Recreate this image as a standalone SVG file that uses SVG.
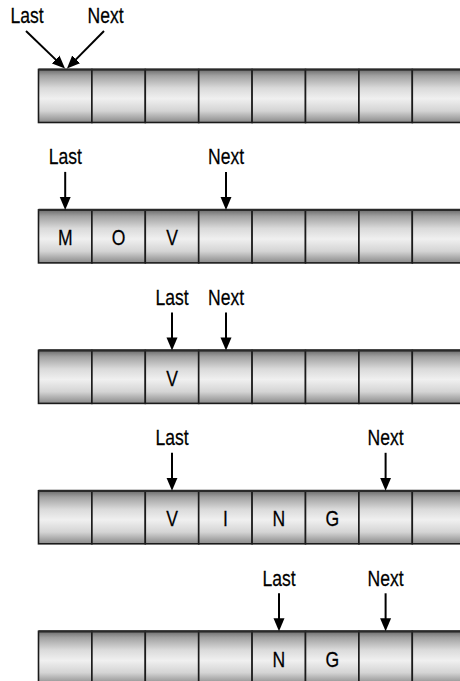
<svg xmlns="http://www.w3.org/2000/svg" width="460" height="681" viewBox="0 0 460 681">
<defs>
<linearGradient id="cyl" x1="0" y1="0" x2="0" y2="1">
<stop offset="0" stop-color="#6c6c6c"/>
<stop offset="0.12" stop-color="#a2a2a2"/>
<stop offset="0.35" stop-color="#dadada"/>
<stop offset="0.55" stop-color="#f0f0f0"/>
<stop offset="0.78" stop-color="#d4d4d4"/>
<stop offset="1" stop-color="#8a8a8a"/>
</linearGradient>
<marker id="ah" markerUnits="userSpaceOnUse" markerWidth="14" markerHeight="12" refX="3" refY="5.5" orient="auto" viewBox="0 0 14 11">
<path d="M0,0 L13,5.5 L0,11 z" fill="#000"/>
</marker>
</defs>
<style>
.cell{fill:url(#cyl);stroke:#1a1a1a;stroke-width:1.6}
.top{stroke:#2a2a2a;stroke-width:2.2}
.lbl,.ch{font-family:"Liberation Sans",Arial,sans-serif;font-size:22.5px;fill:#000;stroke:#000;stroke-width:0.25;text-anchor:middle}
.conn{stroke:#000;stroke-width:2;fill:none;marker-end:url(#ah)}
</style>

<g id="row1">
<rect class="cell" x="38.5" y="69.5" width="53.4" height="53"/>
<rect class="cell" x="91.9" y="69.5" width="53.4" height="53"/>
<rect class="cell" x="145.3" y="69.5" width="53.4" height="53"/>
<rect class="cell" x="198.7" y="69.5" width="53.4" height="53"/>
<rect class="cell" x="252.1" y="69.5" width="53.4" height="53"/>
<rect class="cell" x="305.5" y="69.5" width="53.4" height="53"/>
<rect class="cell" x="358.9" y="69.5" width="53.4" height="53"/>
<rect class="cell" x="412.3" y="69.5" width="53.4" height="53"/>
<line class="top" x1="38.5" y1="69.5" x2="460" y2="69.5"/>
</g>

<g id="row2">
<rect class="cell" x="38.5" y="209.9" width="53.4" height="53"/>
<rect class="cell" x="91.9" y="209.9" width="53.4" height="53"/>
<rect class="cell" x="145.3" y="209.9" width="53.4" height="53"/>
<rect class="cell" x="198.7" y="209.9" width="53.4" height="53"/>
<rect class="cell" x="252.1" y="209.9" width="53.4" height="53"/>
<rect class="cell" x="305.5" y="209.9" width="53.4" height="53"/>
<rect class="cell" x="358.9" y="209.9" width="53.4" height="53"/>
<rect class="cell" x="412.3" y="209.9" width="53.4" height="53"/>
<line class="top" x1="38.5" y1="209.9" x2="460" y2="209.9"/>
<text class="ch" transform="translate(65.2,245.2) scale(0.78,1)">M</text>
<text class="ch" transform="translate(118.6,245.2) scale(0.78,1)">O</text>
<text class="ch" transform="translate(172,245.2) scale(0.78,1)">V</text>
</g>

<g id="row3">
<rect class="cell" x="38.5" y="350.4" width="53.4" height="53"/>
<rect class="cell" x="91.9" y="350.4" width="53.4" height="53"/>
<rect class="cell" x="145.3" y="350.4" width="53.4" height="53"/>
<rect class="cell" x="198.7" y="350.4" width="53.4" height="53"/>
<rect class="cell" x="252.1" y="350.4" width="53.4" height="53"/>
<rect class="cell" x="305.5" y="350.4" width="53.4" height="53"/>
<rect class="cell" x="358.9" y="350.4" width="53.4" height="53"/>
<rect class="cell" x="412.3" y="350.4" width="53.4" height="53"/>
<line class="top" x1="38.5" y1="350.4" x2="460" y2="350.4"/>
<text class="ch" transform="translate(172,385.7) scale(0.78,1)">V</text>
</g>

<g id="row4">
<rect class="cell" x="38.5" y="490.8" width="53.4" height="53"/>
<rect class="cell" x="91.9" y="490.8" width="53.4" height="53"/>
<rect class="cell" x="145.3" y="490.8" width="53.4" height="53"/>
<rect class="cell" x="198.7" y="490.8" width="53.4" height="53"/>
<rect class="cell" x="252.1" y="490.8" width="53.4" height="53"/>
<rect class="cell" x="305.5" y="490.8" width="53.4" height="53"/>
<rect class="cell" x="358.9" y="490.8" width="53.4" height="53"/>
<rect class="cell" x="412.3" y="490.8" width="53.4" height="53"/>
<line class="top" x1="38.5" y1="490.8" x2="460" y2="490.8"/>
<text class="ch" transform="translate(172,526.1) scale(0.78,1)">V</text>
<text class="ch" transform="translate(225.4,526.1) scale(0.78,1)">I</text>
<text class="ch" transform="translate(278.8,526.1) scale(0.78,1)">N</text>
<text class="ch" transform="translate(332.2,526.1) scale(0.78,1)">G</text>
</g>

<g id="row5">
<rect class="cell" x="38.5" y="631.3" width="53.4" height="53"/>
<rect class="cell" x="91.9" y="631.3" width="53.4" height="53"/>
<rect class="cell" x="145.3" y="631.3" width="53.4" height="53"/>
<rect class="cell" x="198.7" y="631.3" width="53.4" height="53"/>
<rect class="cell" x="252.1" y="631.3" width="53.4" height="53"/>
<rect class="cell" x="305.5" y="631.3" width="53.4" height="53"/>
<rect class="cell" x="358.9" y="631.3" width="53.4" height="53"/>
<rect class="cell" x="412.3" y="631.3" width="53.4" height="53"/>
<line class="top" x1="38.5" y1="631.3" x2="460" y2="631.3"/>
<text class="ch" transform="translate(278.8,666.6) scale(0.78,1)">N</text>
<text class="ch" transform="translate(332.2,666.6) scale(0.78,1)">G</text>
</g>

<g id="labels">
<text class="lbl" transform="translate(27,23) scale(0.78,1)">Last</text>
<text class="lbl" transform="translate(105.5,23) scale(0.78,1)">Next</text>
<text class="lbl" transform="translate(65.2,164.2) scale(0.78,1)">Last</text>
<text class="lbl" transform="translate(226,164.2) scale(0.78,1)">Next</text>
<text class="lbl" transform="translate(172,304.8) scale(0.78,1)">Last</text>
<text class="lbl" transform="translate(226,304.8) scale(0.78,1)">Next</text>
<text class="lbl" transform="translate(172,445.3) scale(0.78,1)">Last</text>
<text class="lbl" transform="translate(385.6,445.3) scale(0.78,1)">Next</text>
<text class="lbl" transform="translate(279,585.8) scale(0.78,1)">Last</text>
<text class="lbl" transform="translate(385.6,585.8) scale(0.78,1)">Next</text>
</g>

<g id="connectors">
<line class="conn" x1="26" y1="31" x2="57.8" y2="61.6"/>
<line class="conn" x1="104" y1="31" x2="74" y2="61.4"/>
<line class="conn" x1="65.2" y1="171.9" x2="65.2" y2="199.9"/>
<line class="conn" x1="226" y1="171.9" x2="226" y2="199.9"/>
<line class="conn" x1="172" y1="312.4" x2="172" y2="340.4"/>
<line class="conn" x1="226" y1="312.4" x2="226" y2="340.4"/>
<line class="conn" x1="172" y1="452.8" x2="172" y2="480.8"/>
<line class="conn" x1="385.6" y1="452.8" x2="385.6" y2="480.8"/>
<line class="conn" x1="279" y1="593.3" x2="279" y2="621.3"/>
<line class="conn" x1="385.6" y1="593.3" x2="385.6" y2="621.3"/>
</g>
</svg>
